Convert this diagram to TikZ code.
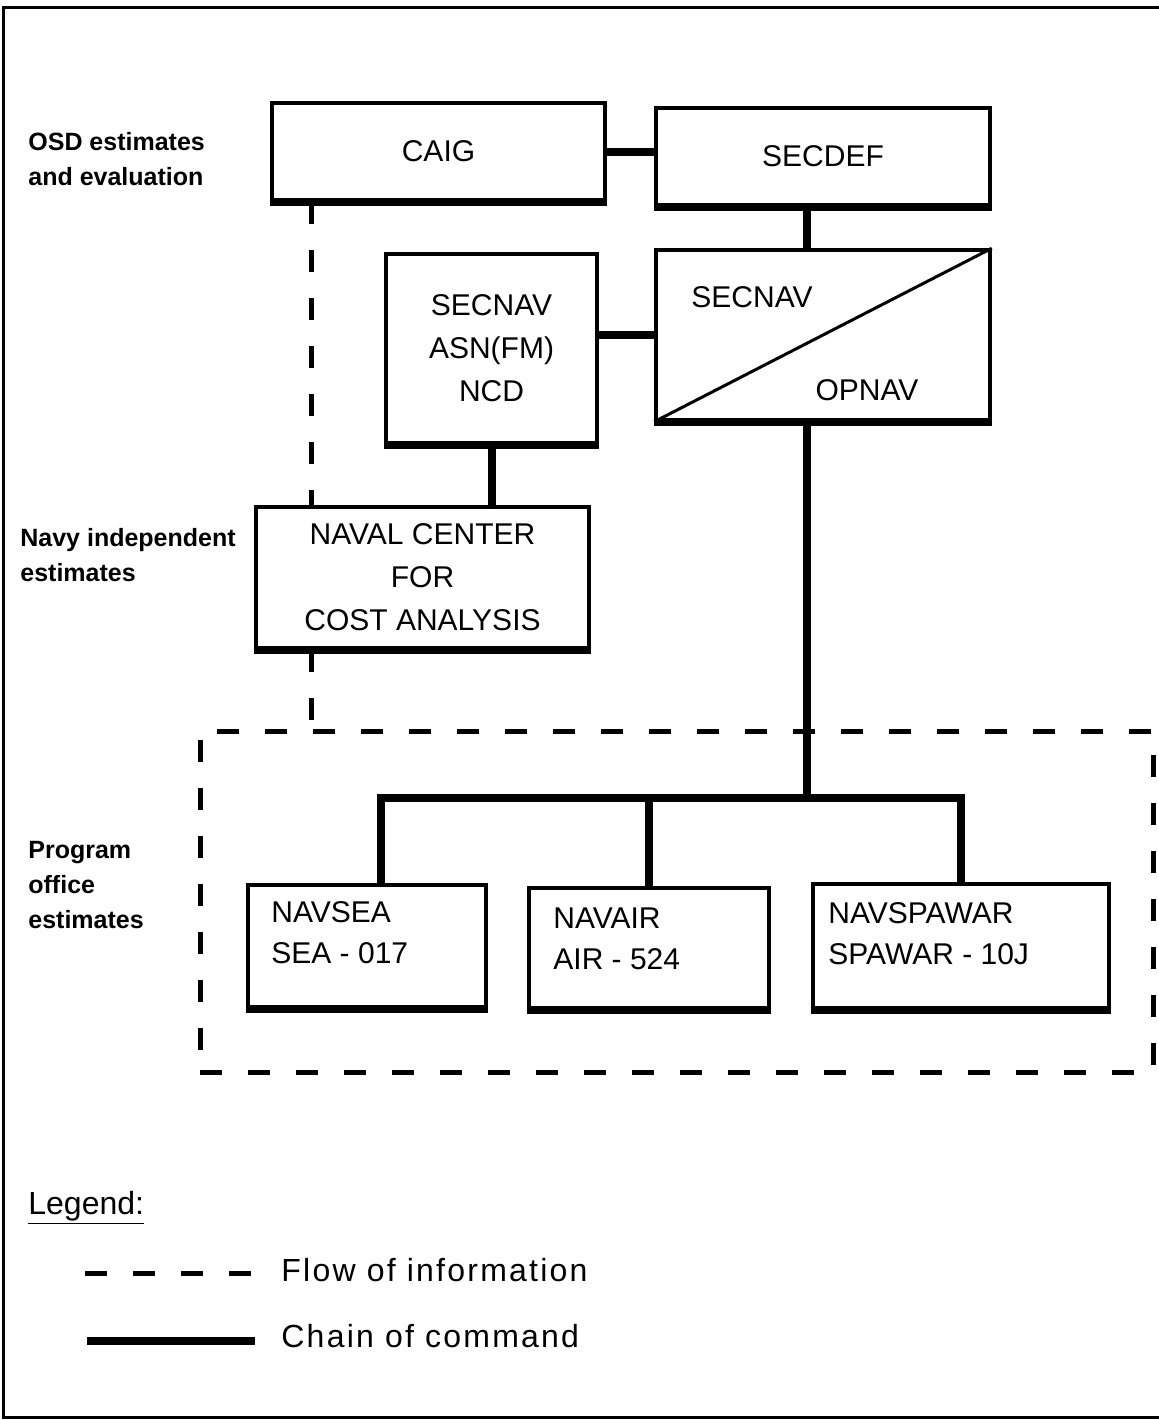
\documentclass[tikz,border=0pt]{standalone}
\usepackage{fontspec}
\setmainfont{Liberation Sans}
\newfontfamily\legendfont[LetterSpace=7]{Liberation Sans}
\usetikzlibrary{calc}

\tikzset{
  orgbox/.style={draw, line width=1.75pt, align=center, inner sep=0pt, font=\fontsize{15}{21.5}\selectfont},
  boxtext/.style={inner sep=0pt, align=left, font=\fontsize{15}{20.5}\selectfont},
  sidetext/.style={inner sep=0pt, anchor=west, align=left, font=\fontsize{12.5}{17.5}\selectfont\bfseries},
  legtext/.style={inner sep=0pt, anchor=west, font=\legendfont\fontsize{16}{19}\selectfont},
  command/.style={line width=4pt},
  info/.style={line width=2.5pt, dash pattern=on 11pt off 13pt},
}

\begin{document}
\begin{tikzpicture}[x=0.5pt,y=-0.5pt]
  \useasboundingbox (0,0) rectangle (1159,1420);
  \draw[line width=1.5pt] (1159,7) -- (3,7) -- (3,1417) -- (1159,1417);

  % boxes
  \node[orgbox, minimum width=166.5pt, minimum height=48.5pt] (caig) at (438.5,151.5) {CAIG};
  \node[orgbox, minimum width=167pt, minimum height=48.5pt] (secdef) at (823,156.5) {SECDEF};
  \node[orgbox, minimum width=167pt, minimum height=85pt] (secop) at (823,335) {};
  \node[orgbox, minimum width=105.5pt, minimum height=94.5pt] (secasn) at (491.5,348.5) {SECNAV\\ASN(FM)\\NCD};
  \node[orgbox, minimum width=166.5pt, minimum height=70.5pt] (ncca) at (422.5,577.5) {NAVAL CENTER\\FOR\\COST ANALYSIS};
  \node[orgbox, minimum width=119pt, minimum height=61pt] (navsea) at (367,946) {};
  \node[orgbox, minimum width=120pt, minimum height=60pt] (navair) at (649,948) {};
  \node[orgbox, minimum width=148pt, minimum height=62pt] (navspawar) at (961,946) {};
  \node[draw, info, inner sep=0pt, minimum width=476.5pt, minimum height=170.5pt] (group) at (676.5,901.5) {};

  % shadowed bottom edges
  \foreach \n in {caig,secdef,secop,secasn,ncca,navsea,navair,navspawar}
    \draw[line width=2pt] ([yshift=-1pt]\n.south west) -- ([yshift=-1pt]\n.south east);

  % split box
  \draw[line width=1.5pt] (secop.south west) -- (secop.north east);
  \node[boxtext] (secnavtxt) at (752,297) {SECNAV};
  \node[boxtext] (opnavtxt) at (867,390) {OPNAV};

  % program office texts
  \node[boxtext, anchor=west] (navseatxt) at (271,933) {NAVSEA\\SEA - 017};
  \node[boxtext, anchor=west] (navairtxt) at (553,939) {NAVAIR\\AIR - 524};
  \node[boxtext, anchor=west] (navspawartxt) at (828,933.5) {NAVSPAWAR\\SPAWAR - 10J};

  % side labels
  \node[sidetext] (osd) at (28,159.5) {OSD estimates\\and evaluation};
  \node[sidetext] (navyest) at (20,555) {Navy independent\\estimates};
  \node[sidetext] (progest) at (28,885) {Program\\office\\estimates};

  % chain of command
  \coordinate (trunk) at (807,0);
  \coordinate (infox) at (311,0);
  \coordinate (bus) at (0,798);
  \draw[command] (caig.east) -- (caig.east -| secdef.west);
  \draw[command] (secdef.south -| trunk) -- (secop.north -| trunk);
  \draw[command] (secop.west) -- (secop.west -| secasn.east);
  \draw[command] (secasn.south) -- (secasn.south |- ncca.north);
  \draw[command] (secop.south -| trunk) -- (bus -| trunk);
  \draw[command] ([xshift=7pt]navsea.north) |- (navspawar.north |- bus) -- (navspawar.north);
  \draw[command] (navair.north) -- (navair.north |- bus);

  % flow of information
  \draw[info] (caig.south -| infox) -- (ncca.north -| infox);
  \draw[info] (ncca.south -| infox) -- (group.north -| infox);

  % legend
  \node[anchor=west, inner sep=0pt, font=\fontsize{16}{19}\selectfont] (legend) at (28,1208) {\underline{Legend:}};
  \node[legtext] (flow) at (281,1270) {Flow of information};
  \node[legtext] (chain) at (281,1336) {Chain of command};
  \coordinate (flowstart) at (85,1273);
  \coordinate (flowend) at (255,1273);
  \coordinate (chainstart) at (87,1341);
  \coordinate (chainend) at (255,1341);
  \draw[info] (flowstart) -- (flowend);
  \draw[command] (chainstart) -- (chainend);
\end{tikzpicture}
\end{document}
